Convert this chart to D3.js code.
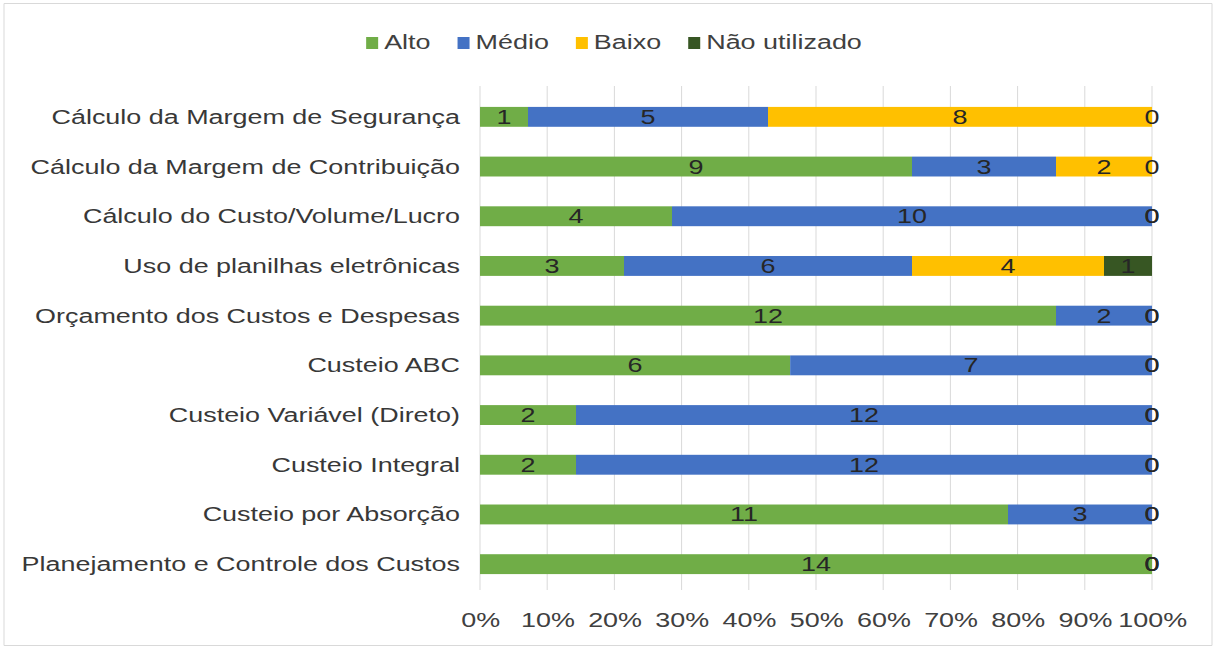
<!DOCTYPE html>
<html>
<head>
<meta charset="utf-8">
<script src="https://cdn.jsdelivr.net/npm/d3@7"></script>
<style>
  html, body { margin: 0; padding: 0; background: #fff; }
</style>
</head>
<body>
<div id="chart"></div>
<script>
// data
var categories = [
  "Cálculo da Margem de Segurança",
  "Cálculo da Margem de Contribuição",
  "Cálculo do Custo/Volume/Lucro",
  "Uso de planilhas eletrônicas",
  "Orçamento dos Custos e Despesas",
  "Custeio ABC",
  "Custeio Variável (Direto)",
  "Custeio Integral",
  "Custeio por Absorção",
  "Planejamento e Controle dos Custos"
];
var seriesNames = ["Alto", "Médio", "Baixo", "Não utilizado"];
var alto         = [1, 9, 4, 3, 12, 6, 2, 2, 11, 14];
var medio        = [5, 3, 10, 6, 2, 7, 12, 12, 3, 0];
var baixo        = [8, 2, 0, 4, 0, 0, 0, 0, 0, 0];
var naoUtilizado = [0, 0, 0, 1, 0, 0, 0, 0, 0, 0];
var tickValues   = [0, 0.1, 0.2, 0.3, 0.4, 0.5, 0.6, 0.7, 0.8, 0.9, 1];
var colors = ["#70ad47", "#4472c4", "#ffc000", "#375623"];

var width = 1215, height = 648;
var S = 1.36;               // the picture is stretched sideways
var W = width / S;          // viewBox width
var fontFamily = "'Liberation Sans', Arial, sans-serif";
var fontSize = 19.8;

var rows = categories.map(function (c, i) {
  return { cat: c, "Alto": alto[i], "Médio": medio[i], "Baixo": baixo[i], "Não utilizado": naoUtilizado[i] };
});

var stack = d3.stack().keys(seriesNames).offset(d3.stackOffsetExpand);
var layers = stack(rows);

var svg = d3.select("#chart").append("svg")
  .attr("width", width)
  .attr("height", height)
  .attr("viewBox", [0, 0, W, height])
  .attr("preserveAspectRatio", "none")
  .style("display", "block")
  .style("font-family", fontFamily)
  .style("font-size", fontSize + "px");

// outer frame
svg.append("rect")
  .attr("x", 4 / S).attr("y", 3.5)
  .attr("width", 1208 / S).attr("height", 642)
  .attr("fill", "#fff")
  .attr("stroke", "#d9d9d9")
  .attr("vector-effect", "non-scaling-stroke");

var x = d3.scaleLinear().domain([0, 1]).range([480 / S, 1152 / S]);
var y = d3.scaleBand().domain(categories).range([92, 589])
  .paddingInner(0.6).paddingOuter(0.3);

// gridlines
svg.append("g")
  .selectAll("line")
  .data(tickValues)
  .enter().append("line")
  .attr("x1", d => x(d)).attr("x2", d => x(d))
  .attr("y1", 86).attr("y2", 590)
  .attr("stroke", "#d9d9d9")
  .attr("vector-effect", "non-scaling-stroke");

// x axis
var xAxis = svg.append("g")
  .attr("transform", "translate(0,606)")
  .call(d3.axisBottom(x).tickValues(tickValues).tickFormat(d3.format(".0%")).tickSize(0).tickPadding(0));
xAxis.select(".domain").remove();
xAxis.selectAll("text")
  .attr("dy", null)
  .attr("y", 21)
  .attr("fill", "#404040")
  .style("font-family", fontFamily)
  .style("font-size", fontSize + "px");

// category labels
svg.append("g")
  .selectAll("text")
  .data(categories)
  .enter().append("text")
  .attr("x", 460 / S)
  .attr("y", d => y(d) + y.bandwidth() / 2 + 7)
  .attr("text-anchor", "end")
  .attr("fill", "#383838")
  .text(d => d);

// bars
var layer = svg.append("g")
  .selectAll("g")
  .data(layers)
  .enter().append("g")
  .attr("fill", (d, i) => colors[i]);

layer.selectAll("rect")
  .data(d => d)
  .enter().append("rect")
  .attr("x", d => x(d[0]))
  .attr("y", d => y(d.data.cat))
  .attr("width", d => x(d[1]) - x(d[0]))
  .attr("height", y.bandwidth());

// data labels
var labels = svg.append("g")
  .selectAll("g")
  .data(layers)
  .enter().append("g");

labels.selectAll("text")
  .data(d => d.map(function (p) { return { p: p, key: d.key }; }))
  .enter().append("text")
  .attr("x", d => x((d.p[0] + d.p[1]) / 2))
  .attr("y", d => y(d.p.data.cat) + y.bandwidth() / 2 + 7)
  .attr("text-anchor", "middle")
  .attr("fill", "#262626")
  .text(d => d.p.data[d.key]);

// legend
var legend = svg.append("g");
var sq = 12, gapSq = 6, gapItem = 27;
var items = legend.selectAll("g")
  .data(seriesNames)
  .enter().append("g");
items.append("rect")
  .attr("width", sq / S).attr("height", sq)
  .attr("y", 43 - sq / 2)
  .attr("fill", (d, i) => colors[i]);
items.append("text")
  .attr("y", 42 + 7)
  .attr("fill", "#404040")
  .text(d => d);

var widths = [];
items.each(function () {
  widths.push(d3.select(this).select("text").node().getComputedTextLength());
});
var total = d3.sum(widths) + seriesNames.length * (sq + gapSq) / S + (seriesNames.length - 1) * gapItem / S;
var cursor = 614 / S - total / 2;
items.each(function (d, i) {
  var g = d3.select(this);
  g.select("rect").attr("x", cursor);
  g.select("text").attr("x", cursor + (sq + gapSq) / S);
  cursor += (sq + gapSq) / S + widths[i] + gapItem / S;
});
</script>
</body>
</html>
